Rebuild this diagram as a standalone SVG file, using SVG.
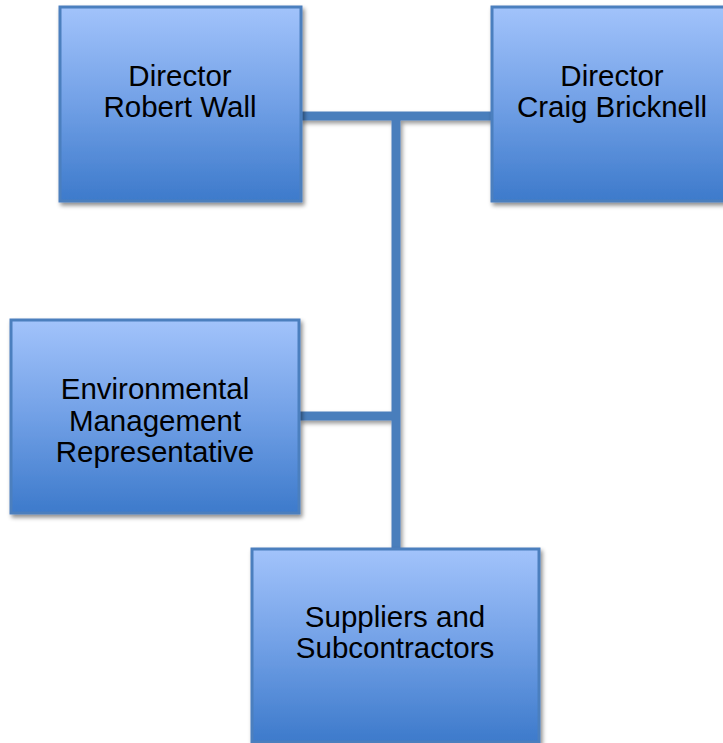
<svg xmlns="http://www.w3.org/2000/svg" width="723" height="743" viewBox="0 0 723 743">
<defs>
<linearGradient id="g" x1="0" y1="0" x2="0" y2="1">
<stop offset="0" stop-color="#a2c3fb"/>
<stop offset="0.5" stop-color="#71a0e6"/>
<stop offset="1" stop-color="#3d7acb"/>
</linearGradient>
<filter id="sh" x="-10%" y="-10%" width="125%" height="125%">
<feDropShadow dx="2" dy="3" stdDeviation="2" flood-color="#000" flood-opacity="0.45"/>
</filter>
<filter id="shc" filterUnits="userSpaceOnUse" x="0" y="0" width="723" height="743">
<feDropShadow dx="2" dy="3" stdDeviation="2" flood-color="#000" flood-opacity="0.4"/>
</filter>
</defs>
<style>
.box{fill:url(#g);stroke:#4b7fbe;stroke-width:3;filter:url(#sh)}
.con{stroke:#4a7ebc;stroke-width:9;fill:none}
text{font-family:"Liberation Sans",Arial,sans-serif;font-size:29.5px;fill:#000;text-anchor:middle}
</style>
<g id="connectors" filter="url(#shc)">
<line class="con" x1="300" y1="116" x2="492" y2="116"/>
<line class="con" x1="396" y1="116" x2="396" y2="549"/>
<line class="con" x1="299" y1="416" x2="396" y2="416"/>
</g>
<g id="robert-wall">
<rect class="box" x="60" y="7" width="241" height="194"/>
<text x="180" y="86">Director</text>
<text x="180" y="117">Robert Wall</text>
</g>
<g id="craig-bricknell">
<rect class="box" x="492" y="7" width="242" height="194"/>
<text x="612" y="86">Director</text>
<text x="612" y="117">Craig Bricknell</text>
</g>
<g id="emr">
<rect class="box" x="11" y="320" width="288" height="193"/>
<text x="155" y="399">Environmental</text>
<text x="155" y="431">Management</text>
<text x="155" y="462">Representative</text>
</g>
<g id="suppliers">
<rect class="box" x="252" y="549" width="287" height="193"/>
<text x="395" y="627">Suppliers and</text>
<text x="395" y="658">Subcontractors</text>
</g>
</svg>
